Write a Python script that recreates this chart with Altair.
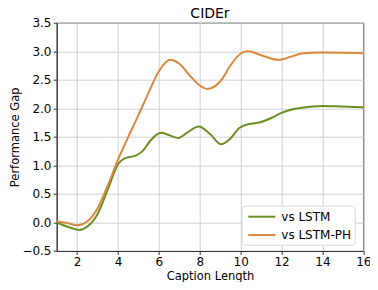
import altair as alt
import pandas as pd

x_ph = [1, 1.5, 2, 2.5, 3, 3.5, 4, 4.5, 5, 5.5, 6, 6.55, 7, 7.5, 8, 8.35, 9, 9.5, 10, 10.35, 11, 11.85, 12.5, 13, 14, 15, 16]
y_ph = [0.02, -0.01, -0.05, 0.02, 0.25, 0.65, 1.10, 1.50, 1.88, 2.28, 2.65, 2.85, 2.78, 2.58, 2.40, 2.34, 2.47, 2.75, 2.96, 3.00, 2.93, 2.85, 2.91, 2.96, 2.98, 2.975, 2.965]

x_lstm = [1, 1.5, 2.1, 2.5, 3, 3.5, 4, 4.3, 4.85, 5.2, 5.6, 6.1, 6.5, 6.95, 7.4, 7.95, 8.5, 9.05, 9.5, 9.95, 10.5, 10.9, 11.5, 12, 12.5, 13, 14, 15, 16]
y_lstm = [0.0, -0.07, -0.13, -0.07, 0.15, 0.58, 1.02, 1.12, 1.17, 1.25, 1.44, 1.57, 1.53, 1.48, 1.58, 1.68, 1.55, 1.37, 1.47, 1.66, 1.73, 1.75, 1.83, 1.92, 1.98, 2.01, 2.04, 2.03, 2.02]

series = ["vs LSTM", "vs LSTM-PH"]
colors = ["#6b8e23", "#d9883f"]
x_ticks = [2, 4, 6, 8, 10, 12, 14, 16]
y_ticks = [-0.5, 0.0, 0.5, 1.0, 1.5, 2.0, 2.5, 3.0, 3.5]

df = pd.concat([
    pd.DataFrame({"x": x_lstm, "y": y_lstm, "s": series[0], "o": 0}),
    pd.DataFrame({"x": x_ph, "y": y_ph, "s": series[1], "o": 1}),
])

font = "DejaVu Sans"

chart = alt.Chart(df).mark_line(interpolate="monotone", strokeWidth=2, clip=True).encode(
    x=alt.X("x:Q", scale=alt.Scale(domain=[1, 16], nice=False, zero=False),
            axis=alt.Axis(values=x_ticks, title="Caption Length", format="d", labelFlush=False,
                          titleBaseline="alphabetic", titleY=29)),
    y=alt.Y("y:Q", scale=alt.Scale(domain=[-0.5, 3.5], nice=False, zero=False),
            axis=alt.Axis(values=y_ticks, title="Performance Gap", format=".1f", labelFlush=False,
                          titleBaseline="alphabetic", titleX=-38.5)),
    color=alt.Color("s:N", scale=alt.Scale(domain=series, range=colors),
                    legend=alt.Legend(title=None, orient="none", legendX=185, legendY=183,
                                      symbolType="M-0.63,0H3.23", symbolSize=196, symbolStrokeWidth=2,
                                      labelFontSize=12, labelFont=font, labelColor="#000",
                                      fillColor="white", strokeColor="#d8d8d8", cornerRadius=3,
                                      padding=3, rowPadding=4.3, labelOffset=20.6)),
    order="o:Q",
).properties(
    width=306.6, height=228.3,
    title=alt.TitleParams("CIDEr", font=font, fontSize=14, fontWeight="normal", color="#000",
                          offset=4.4, dy=9),
    autosize=alt.AutoSizeParams(type="none"),
    padding={"left": 48.7, "top": 14.7, "right": 6.5, "bottom": 31},
).configure_view(
    stroke="#333", strokeWidth=1
).configure_axis(
    labelFont=font, titleFont=font, labelFontSize=12, titleFontSize=11.5,
    labelColor="#000", titleColor="#000", titleFontWeight="normal",
    domainColor="#333", tickColor="#333", tickSize=3.5,
    gridColor="#d0d0d0", gridWidth=1, labelPadding=2.2,
)

chart.save("out.html", embed_options={"renderer": "svg", "actions": False})
